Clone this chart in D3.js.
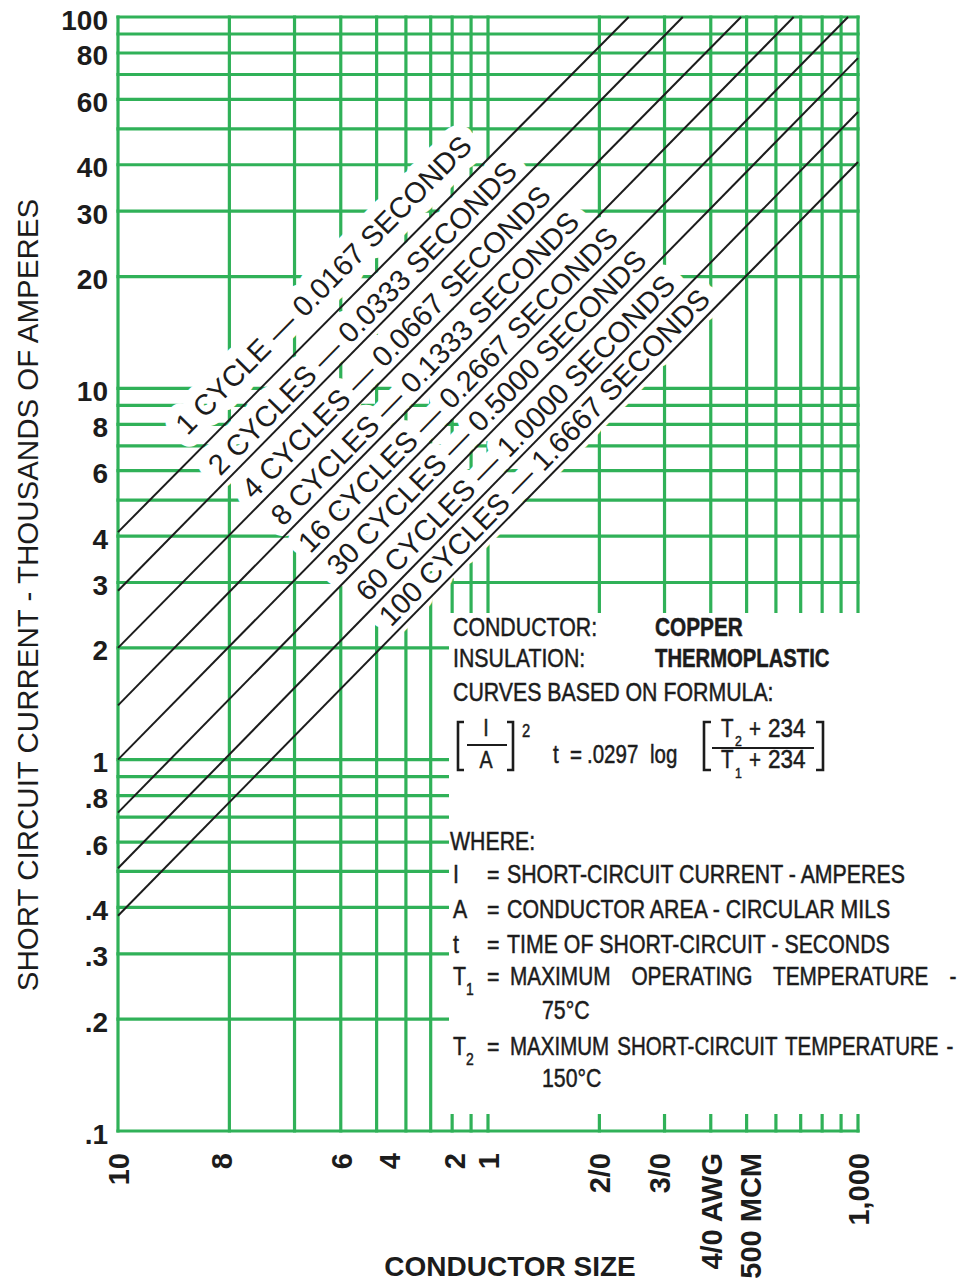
<!DOCTYPE html>
<html>
<head>
<meta charset="utf-8">
<script src="https://cdn.jsdelivr.net/npm/d3@7"></script>
<style>
  body { margin: 0; background: #fff; }
  svg { display: block; }
</style>
</head>
<body>
<svg id="chart"></svg>
<script>
const width = 961;
const height = 1282;
const margin = { top: 17, right: 103, bottom: 151, left: 118 };

// grid: conductor area (circular mils) and current (thousands of amperes)
const cmGrid = [10000, 20000, 30000, 40000, 50000, 60000, 70000, 80000, 90000,
  100000, 200000, 300000, 400000, 500000, 600000, 700000, 800000, 900000, 1000000];
const kaGrid = [0.1, 0.2, 0.3, 0.4, 0.5, 0.6, 0.7, 0.8, 0.9,
  1, 2, 3, 4, 5, 6, 7, 8, 9,
  10, 20, 30, 40, 50, 60, 70, 80, 90, 100];

const kaTicks = [100, 80, 60, 40, 30, 20, 10, 8, 6, 4, 3, 2, 1, 0.8, 0.6, 0.4, 0.3, 0.2, 0.1];
const kaTickText = ["100", "80", "60", "40", "30", "20", "10", "8", "6", "4", "3", "2", "1", ".8", ".6", ".4", ".3", ".2", ".1"];

const sizeText = ["10", "8", "6", "4", "2", "1", "2/0", "3/0", "4/0 AWG", "500 MCM", "1,000"];
const sizeAt = [10000, 19000, 40000, 54000, 81000, 100000, 200000, 290000, 400000, 510000, 1000000];

const curveNames = [
  "1 CYCLE \u2014 0.0167 SECONDS",
  "2 CYCLES \u2014 0.0333 SECONDS",
  "4 CYCLES \u2014 0.0667 SECONDS",
  "8 CYCLES \u2014 0.1333 SECONDS",
  "16 CYCLES \u2014 0.2667 SECONDS",
  "30 CYCLES \u2014 0.5000 SECONDS",
  "60 CYCLES \u2014 1.0000 SECONDS",
  "100 CYCLES \u2014 1.6667 SECONDS"
];
const curveStartCM = [10000, 10000, 10000, 10000, 10000, 10000, 10000, 10000];
const curveStartKA = [4.1, 2.85, 2.0, 1.4, 1.0, 0.72, 0.51, 0.38];
const curveEndCM = [240000, 336000, 483000, 670000, 940000, 1000000, 1000000, 1000000];
const curveEndKA = [100, 100, 100, 100, 100, 77.5, 55.5, 40.7];
// where each label's text starts along its curve
const curveLabelCM = [16700, 19500, 24000, 28800, 34100, 40800, 48900, 56400];

const green = "#30b158";
const ink = "#1c1c1c";
const sans = "'Liberation Sans', Arial, sans-serif";

const svg = d3.select("#chart")
    .attr("width", width)
    .attr("height", height);

svg.append("rect").attr("width", width).attr("height", height).attr("fill", "#fff");

const x = d3.scaleLog()
    .domain([10000, 1000000])
    .range([margin.left, width - margin.right]);

const y = d3.scaleLog()
    .domain([0.1, 100])
    .range([height - margin.bottom, margin.top]);

// grid
const grid = svg.append("g").attr("stroke", green).attr("stroke-width", 3.2);

grid.selectAll(".vgrid")
    .data(cmGrid)
    .join("line")
    .attr("class", "vgrid")
    .attr("x1", d => x(d)).attr("x2", d => x(d))
    .attr("y1", y(0.1) + 1.6).attr("y2", y(100) - 1.6);

grid.selectAll(".hgrid")
    .data(kaGrid)
    .join("line")
    .attr("class", "hgrid")
    .attr("x1", x(10000) - 1.6).attr("x2", x(1000000) + 1.6)
    .attr("y1", d => y(d)).attr("y2", d => y(d));

// white panel behind the notes
svg.append("rect")
    .attr("x", 449).attr("y", 613)
    .attr("width", width - 449).attr("height", 1114 - 613)
    .attr("fill", "#fff");

// curves
const curves = curveNames.map((name, i) => ({
  name,
  pts: [[curveStartCM[i], curveStartKA[i]], [curveEndCM[i], curveEndKA[i]]],
  labelCM: curveLabelCM[i]
}));

const line = d3.line().x(d => x(d[0])).y(d => y(d[1]));

// labels along the curves, with a white halo that hides the grid
const labels = svg.append("g")
    .attr("font-family", sans)
    .attr("font-size", 29)
    .attr("fill", ink);

labels.selectAll("text")
    .data(curves)
    .join("text")
    .attr("transform", (d, i) => {
      const p0 = [x(d.pts[0][0]), y(d.pts[0][1])];
      const p1 = [x(d.pts[1][0]), y(d.pts[1][1])];
      const len = Math.hypot(p1[0] - p0[0], p1[1] - p0[1]);
      const u = [(p1[0] - p0[0]) / len, (p1[1] - p0[1]) / len];
      const n = [u[1], -u[0]];
      const t = (x(d.labelCM) - p0[0]) / u[0];
      const off = i === 0 ? 18 : 7;
      const ox = p0[0] + u[0] * t + n[0] * off;
      const oy = p0[1] + u[1] * t + n[1] * off;
      const ang = Math.atan2(u[1], u[0]) * 180 / Math.PI;
      return `translate(${ox},${oy}) rotate(${ang})`;
    })
    .attr("stroke", "#fff")
    .attr("stroke-width", 24)
    .attr("stroke-linejoin", "round")
    .attr("paint-order", "stroke")
    .text(d => d.name);

svg.append("g")
    .selectAll("path")
    .data(curves)
    .join("path")
    .attr("d", d => line(d.pts))
    .attr("fill", "none")
    .attr("stroke", ink)
    .attr("stroke-width", 2);

// y axis labels
const yAxis = svg.append("g")
    .attr("transform", `translate(${margin.left},0)`)
    .call(d3.axisLeft(y).tickValues(kaTicks).tickFormat((d, i) => kaTickText[i]).tickSize(0).tickPadding(10));
yAxis.select(".domain").remove();
yAxis.selectAll("text")
    .attr("font-family", sans)
    .attr("font-size", 28)
    .attr("font-weight", "bold")
    .attr("fill", ink)
    .attr("dy", 12);

// x axis labels
const xAxis = svg.append("g")
    .attr("transform", `translate(0,${height - margin.bottom})`)
    .call(d3.axisBottom(x).tickValues(sizeAt).tickFormat((d, i) => sizeText[i]).tickSize(0));
xAxis.select(".domain").remove();
xAxis.selectAll("text")
    .attr("font-family", sans)
    .attr("font-size", 29)
    .attr("font-weight", "bold")
    .attr("fill", ink)
    .attr("transform", "rotate(-90)")
    .attr("text-anchor", "end")
    .attr("x", -22)
    .attr("y", 10.5)
    .attr("dy", 0);

// axis titles
svg.append("text")
    .attr("transform", "translate(38,595) rotate(-90)")
    .attr("text-anchor", "middle")
    .attr("font-family", sans)
    .attr("font-size", 29.5)
    .attr("fill", ink)
    .text("SHORT CIRCUIT CURRENT - THOUSANDS OF AMPERES");

svg.append("text")
    .attr("transform", "translate(510,1276)")
    .attr("text-anchor", "middle")
    .attr("font-family", sans)
    .attr("font-size", 28)
    .attr("font-weight", "bold")
    .attr("fill", ink)
    .text("CONDUCTOR SIZE");

// notes (condensed lettering)
const notes = svg.append("g")
    .attr("font-family", sans)
    .attr("font-size", 26)
    .attr("fill", ink)
    .attr("stroke", ink)
    .attr("stroke-width", 0.5);

function note(tx, ty, str, opts = {}) {
  const sx = opts.sx || 0.82;
  const t = notes.append("text")
      .attr("transform", `translate(${tx},${ty}) scale(${sx},1)`)
      .text(str);
  if (opts.bold) t.attr("font-weight", "bold");
  if (opts.size) t.attr("font-size", opts.size);
  if (opts.anchor) t.attr("text-anchor", opts.anchor);
  if (opts.ws) t.attr("word-spacing", opts.ws);
  return t;
}

note(453, 636, "CONDUCTOR:");
note(655, 636, "COPPER", { bold: true, sx: 0.8 });
note(453, 667, "INSULATION:");
note(655, 667, "THERMOPLASTIC", { bold: true, sx: 0.78 });
note(453, 701, "CURVES BASED ON FORMULA:");

// formula
const br = notes.append("g").attr("fill", "none").attr("stroke", ink).attr("stroke-width", 2.6);
br.append("path").attr("d", "M464,722H458V770H464");
br.append("path").attr("d", "M507,722H513V770H507");
br.append("line").attr("x1", 467).attr("x2", 507).attr("y1", 745).attr("y2", 745).attr("stroke-width", 2);
note(486, 736, "I", { size: 24, anchor: "middle" });
note(486, 768, "A", { size: 24, anchor: "middle" });
note(522, 737, "2", { size: 18 });
note(553, 763, "t", { size: 25 });
note(570, 763, "=", { size: 25 });
note(587, 763, ".0297", { size: 25 });
note(650, 763, "log", { size: 25 });
br.append("path").attr("d", "M711,722H704V770H711");
br.append("path").attr("d", "M816,722H823V770H816");
br.append("line").attr("x1", 712).attr("x2", 814).attr("y1", 748).attr("y2", 748).attr("stroke-width", 2);
note(721, 737, "T", { size: 25 });
note(735, 746, "2", { size: 15 });
note(749, 737, "+", { size: 25 });
note(768, 737, "234", { size: 25, sx: 0.9 });
note(721, 768, "T", { size: 25 });
note(735, 778, "1", { size: 15 });
note(749, 768, "+", { size: 25 });
note(768, 768, "234", { size: 25, sx: 0.9 });

note(450, 850, "WHERE:");
note(453, 883, "I");
note(487, 883, "=");
note(507, 883, "SHORT-CIRCUIT CURRENT - AMPERES");
note(453, 918, "A");
note(487, 918, "=");
note(507, 918, "CONDUCTOR AREA - CIRCULAR MILS");
note(453, 953, "t");
note(487, 953, "=");
note(507, 953, "TIME OF SHORT-CIRCUIT - SECONDS");
note(453, 985, "T");
note(466, 995, "1", { size: 17 });
note(487, 985, "=");
note(510, 985, "MAXIMUM OPERATING TEMPERATURE -", { ws: 19, sx: 0.8 });
note(542, 1019, "75\u00B0C");
note(453, 1055, "T");
note(466, 1065, "2", { size: 17 });
note(487, 1055, "=");
note(510, 1055, "MAXIMUM SHORT-CIRCUIT TEMPERATURE -", { sx: 0.79, ws: 3 });
note(542, 1087, "150\u00B0C");
</script>
</body>
</html>
